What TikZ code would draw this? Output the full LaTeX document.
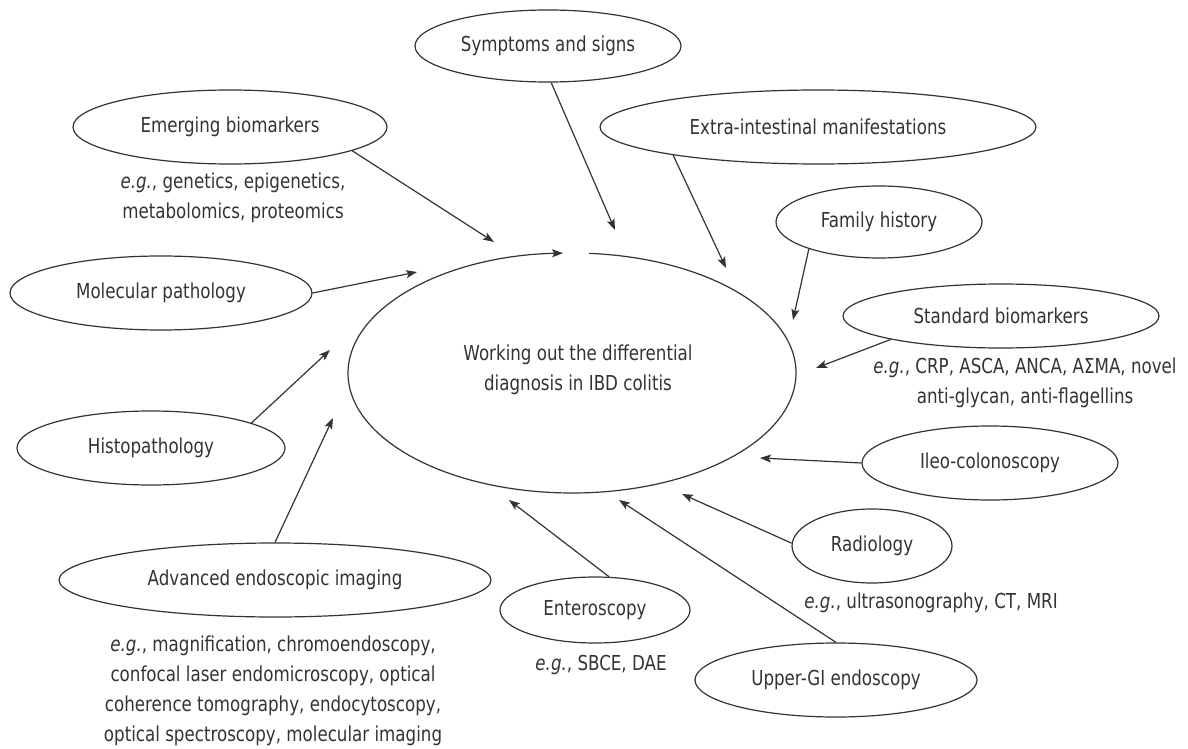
\documentclass[tikz,border=0pt]{standalone}
\usepackage{fontspec}
\setmainfont{DejaVu Sans}[FakeStretch=0.81]
\usetikzlibrary{shapes.geometric,arrows.meta}
\newcommand\dgfont{\fontsize{10.3}{15}\selectfont}
\begin{document}
\begin{tikzpicture}[x=0.5pt,y=0.5pt,
  oval/.style={ellipse,draw=black!80,line width=0.6pt,inner sep=0pt,font=\dgfont,text=black!80},
  lbl/.style={align=center,inner sep=0pt,font=\dgfont,text=black!80},
  arr/.style={draw=black!80,line width=0.6pt,-{Stealth[length=5.5pt,width=4pt,inset=1.2pt]}}]
\useasboundingbox (0,0) rectangle (1188,-749);
% outer ellipses
\node[oval,minimum width=133pt,minimum height=36pt] (sympt) at (548,-46) {Symptoms and signs};
\node[oval,minimum width=157pt,minimum height=37pt] (emerg) at (230,-127) {Emerging biomarkers};
\node[oval,minimum width=218pt,minimum height=37pt] (extra) at (818,-127) {Extra-intestinal manifestations};
\node[oval,minimum width=103pt,minimum height=36pt] (family) at (879,-222) {Family history};
\node[oval,minimum width=158pt,minimum height=32pt] (stdbio) at (1001,-316) {Standard biomarkers};
\node[oval,minimum width=151pt,minimum height=37pt] (molec) at (161,-293) {Molecular pathology};
\node[oval,minimum width=134pt,minimum height=37pt] (histo) at (151,-448) {Histopathology};
\node[oval,minimum width=216pt,minimum height=37pt] (adv) at (275,-580) {Advanced endoscopic imaging};
\node[oval,minimum width=95pt,minimum height=33pt] (entero) at (595,-610) {Enteroscopy};
\node[oval,minimum width=128pt,minimum height=37pt] (ileo) at (990,-463) {Ileo-colonoscopy};
\node[oval,minimum width=80pt,minimum height=37pt] (radio) at (872,-546) {Radiology};
\node[oval,minimum width=141pt,minimum height=37pt] (upper) at (836,-680) {Upper-GI endoscopy};
% central ellipse (drawn with its small gap at the top)
\coordinate (cc) at (572,-373);
\draw[arr] ([shift={(85.6:112pt and 60pt)}]cc) arc[start angle=85.6,end angle=-267.7,x radius=112pt,y radius=60pt];
\node[lbl] (centxt) at (578,-370) {Working out the differential\\diagnosis in IBD colitis};
% example texts
\node[lbl] (emgeg) at (233,-197.5) {\textit{e.g.}, genetics, epigenetics,\\metabolomics, proteomics};
\node[lbl] (stdeg) at (1025,-382.5) {\textit{e.g.}, CRP, ASCA, ANCA, AΣMA, novel\\anti-glycan, anti-flagellins};
\node[lbl] (radeg) at (931,-603) {\textit{e.g.}, ultrasonography, CT, MRI};
\node[lbl] (enteg) at (601,-665) {\textit{e.g.}, SBCE, DAE};
\node[lbl] (adveg) at (273,-691) {\textit{e.g.}, magnification, chromoendoscopy,\\confocal laser endomicroscopy, optical\\coherence tomography, endocytoscopy,\\optical spectroscopy, molecular imaging};
% arrow tips
\coordinate (tsym) at (615,-230);
\coordinate (temg) at (494,-242);
\coordinate (text) at (726,-268);
\coordinate (tfam) at (793,-320);
\coordinate (tstd) at (816,-368);
\coordinate (tmol) at (417,-272);
\coordinate (this) at (330,-350);
\coordinate (tadv) at (333,-418);
\coordinate (tent) at (509,-500);
\coordinate (trad) at (682,-494);
\coordinate (tile) at (760,-458);
\coordinate (tupp) at (619,-500);
% arrows
\draw[arr] (sympt.-85.6) -- (tsym);
\draw[arr] (emerg.-11.8) -- (temg);
\draw[arr] (extra.-169.4) -- (text);
\draw[arr] (family.-159) -- (tfam);
\draw[arr] (stdbio.-168.8) -- (tstd);
\draw[arr] (molec.east) -- (tmol);
\draw[arr] (histo.14.6) -- (this);
\draw[arr] (adv.north) -- (tadv);
\draw[arr] (entero.67) -- (tent);
\draw[arr] (radio.178) -- (trad);
\draw[arr] (ileo.west) -- (tile);
\draw[arr] (upper.north) -- (tupp);
\end{tikzpicture}
\end{document}
